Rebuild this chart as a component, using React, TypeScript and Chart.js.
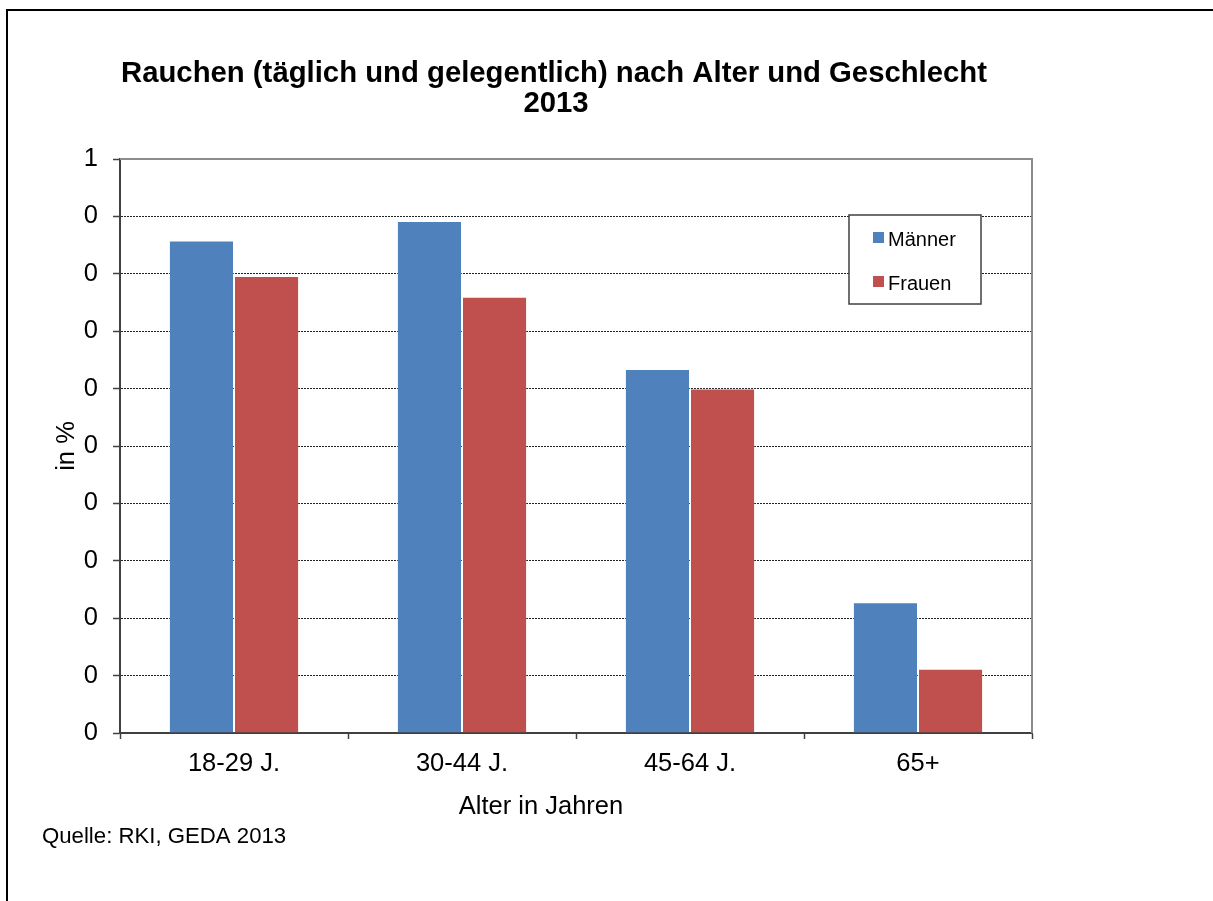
import { useEffect, useRef } from 'react';
import { Chart, registerables } from 'chart.js';

Chart.register(...registerables);

const categories = ['18-29 J.', '30-44 J.', '45-64 J.', '65+'];
const maenner = [0.429, 0.446, 0.317, 0.114];
const frauen = [0.398, 0.38, 0.3, 0.056];
const seriesNames = ['Männer', 'Frauen'];
const seriesColors = ['#4F81BD', '#C0504D'];
const titleLines = ['Rauchen (täglich und gelegentlich) nach Alter und Geschlecht', '2013'];
const yTitle = 'in %';
const xTitle = 'Alter in Jahren';
const sourceText = 'Quelle: RKI, GEDA 2013';
const yMin = 0;
const yMax = 0.5;
const yStep = 0.05;

const FONT = "'Liberation Sans', Arial, Helvetica, sans-serif";

export default function App() {
  const ref = useRef<HTMLCanvasElement>(null);

  useEffect(() => {
    const canvas = ref.current;
    if (!canvas) return;

    const decorPlugin = {
      id: 'decor',
      afterDraw(chart: any) {
        const { ctx, chartArea } = chart;
        ctx.save();
        // outer frame (left + top)
        ctx.fillStyle = '#000';
        ctx.fillRect(6, 9, 2, chart.height);
        ctx.fillRect(6, 9, chart.width, 2);

        // plot area border top/right
        ctx.strokeStyle = '#8c8c8c';
        ctx.lineWidth = 2;
        ctx.beginPath();
        ctx.moveTo(chartArea.left, chartArea.top);
        ctx.lineTo(chartArea.right, chartArea.top);
        ctx.lineTo(chartArea.right, chartArea.bottom);
        ctx.stroke();

        // title
        ctx.fillStyle = '#000';
        ctx.font = `bold 29.3px ${FONT}`;
        ctx.textAlign = 'center';
        ctx.textBaseline = 'alphabetic';
        ctx.fillText(titleLines[0], 554, 82);
        ctx.fillText(titleLines[1], 556, 112);

        // x axis title
        ctx.font = `25.5px ${FONT}`;
        ctx.textAlign = 'center';
        ctx.textBaseline = 'middle';
        ctx.fillText(xTitle, 541, 806.5);

        // source
        ctx.textBaseline = 'alphabetic';
        ctx.font = `22.2px ${FONT}`;
        ctx.textAlign = 'left';
        ctx.fillText(sourceText, 42, 843);

        // legend box
        const lx = 849, ly = 215, lw = 132, lh = 89;
        ctx.fillStyle = '#fff';
        ctx.fillRect(lx, ly, lw, lh);
        ctx.strokeStyle = '#404040';
        ctx.lineWidth = 1.5;
        ctx.strokeRect(lx, ly, lw, lh);
        ctx.font = `20px ${FONT}`;
        ctx.textAlign = 'left';
        const ds = chart.data.datasets;
        const baselines = [246, 290];
        ds.forEach((d: any, i: number) => {
          ctx.fillStyle = d.backgroundColor;
          ctx.fillRect(873, baselines[i] - 14, 11, 11);
          ctx.fillStyle = '#000';
          ctx.fillText(d.label, 888, baselines[i]);
        });
        ctx.restore();
      },
    };

    const chart = new Chart(canvas, {
      type: 'bar',
      data: {
        labels: categories,
        datasets: [
          {
            label: seriesNames[0],
            data: maenner,
            backgroundColor: seriesColors[0],
            borderColor: 'rgba(255,255,255,0.2)',
            borderWidth: 1,
            categoryPercentage: 0.571,
            barPercentage: 1,
          },
          {
            label: seriesNames[1],
            data: frauen,
            backgroundColor: seriesColors[1],
            borderColor: 'rgba(255,255,255,0.2)',
            borderWidth: 1,
            categoryPercentage: 0.571,
            barPercentage: 1,
          },
        ],
      },
      options: {
        responsive: false,
        animation: false,
        devicePixelRatio: 1,
        layout: { padding: { left: 52, top: 159, right: 181, bottom: 79 } },
        plugins: {
          legend: { display: false },
          title: { display: false },
          tooltip: { enabled: false },
        },
        scales: {
          x: {
            afterFit: (s: any) => {
              s.height = 89;
            },
            grid: {
              offset: true,
              drawOnChartArea: false,
              drawTicks: true,
              tickLength: 6,
              tickColor: '#404040',
              tickWidth: 1.5,
            },
            border: { color: '#404040', width: 2 },
            ticks: {
              color: '#000',
              font: { family: FONT, size: 25.5 },
              padding: 10,
              maxRotation: 0,
            },
            title: { display: false },
          },
          y: {
            min: yMin,
            max: yMax,
            afterFit: (s: any) => {
              s.width = 68;
            },
            grid: {
              color: (c: any) => {
                const v = c.tick ? c.tick.value : 0;
                if (Math.abs(v) < 1e-9 || Math.abs(v - yMax) < 1e-9) return 'rgba(0,0,0,0)';
                return '#222';
              },
              lineWidth: 1,
              drawTicks: true,
              tickLength: 7,
              tickColor: '#404040',
              tickWidth: 1.5,
            },
            border: { color: '#404040', width: 2, dash: [2, 1] },
            ticks: {
              stepSize: yStep,
              color: '#000',
              font: { family: FONT, size: 25.5 },
              padding: 15,
              callback: (v: any) => String(Math.round(Number(v) + 1e-9)),
            },
            title: {
              display: true,
              text: yTitle,
              color: '#000',
              font: { family: FONT, size: 25.5 },
              padding: 0,
            },
          },
        },
      },
      plugins: [decorPlugin],
    });

    return () => chart.destroy();
  }, []);

  return (
    <div style={{ position: 'absolute', left: 0, top: 0, width: 1213, height: 901, background: '#fff' }}>
      <canvas ref={ref} width={1213} height={901} style={{ display: 'block' }} />
    </div>
  );
}
